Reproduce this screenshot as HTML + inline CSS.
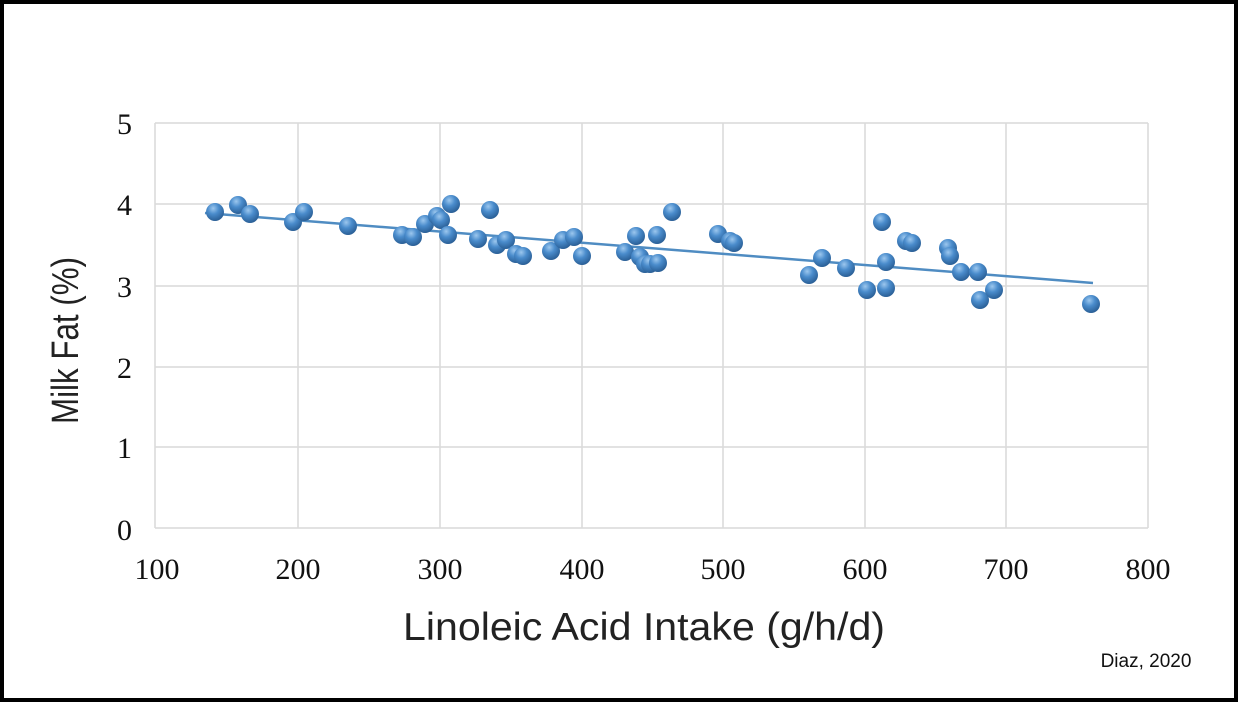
<!DOCTYPE html>
<html><head><style>
html,body{margin:0;padding:0;background:#fff;}
</style></head><body>
<svg width="1239" height="703" xmlns="http://www.w3.org/2000/svg">
<defs>
<radialGradient id="g" cx="0.4" cy="0.3" r="0.7">
<stop offset="0" stop-color="#9cc7ee"/>
<stop offset="0.45" stop-color="#4a8ccc"/>
<stop offset="1" stop-color="#2a5f96"/>
</radialGradient>
</defs>
<rect x="2" y="2" width="1234" height="698" fill="#fff" stroke="#000" stroke-width="4"/>
<g stroke="#d9d9d9" stroke-width="1.5">
<line x1="155" y1="123" x2="1148" y2="123"/>
<line x1="155" y1="204" x2="1148" y2="204"/>
<line x1="155" y1="286" x2="1148" y2="286"/>
<line x1="155" y1="367" x2="1148" y2="367"/>
<line x1="155" y1="447" x2="1148" y2="447"/>
<line x1="155" y1="528" x2="1148" y2="528"/>
<line x1="155" y1="123" x2="155" y2="528"/>
<line x1="298" y1="123" x2="298" y2="528"/>
<line x1="440" y1="123" x2="440" y2="528"/>
<line x1="582" y1="123" x2="582" y2="528"/>
<line x1="723" y1="123" x2="723" y2="528"/>
<line x1="865" y1="123" x2="865" y2="528"/>
<line x1="1006" y1="123" x2="1006" y2="528"/>
<line x1="1148" y1="123" x2="1148" y2="528"/>
</g>
<g font-family="Liberation Serif, serif" font-size="30" fill="#111" text-anchor="end">
<text x="132" y="134">5</text><text x="132" y="215">4</text><text x="132" y="297">3</text>
<text x="132" y="378">2</text><text x="132" y="458">1</text><text x="132" y="540">0</text>
</g>
<g font-family="Liberation Serif, serif" font-size="30" fill="#111" text-anchor="middle">
<text x="157" y="579">100</text><text x="298" y="579">200</text><text x="440" y="579">300</text>
<text x="582" y="579">400</text><text x="723" y="579">500</text><text x="865" y="579">600</text>
<text x="1006" y="579">700</text><text x="1148" y="579">800</text>
</g>
<text x="403" y="640" textLength="482" lengthAdjust="spacingAndGlyphs" font-family="Liberation Sans, sans-serif" font-size="39" fill="#222">Linoleic Acid Intake (g/h/d)</text>
<text transform="translate(78,424) rotate(-90)" textLength="167" lengthAdjust="spacingAndGlyphs" font-family="Liberation Sans, sans-serif" font-size="38" fill="#222">Milk Fat (%)</text>
<text x="1146" y="667" font-family="Liberation Sans, sans-serif" font-size="19" fill="#111" text-anchor="middle">Diaz, 2020</text>
<line x1="205" y1="213" x2="1093" y2="283" stroke="#4f8cc2" stroke-width="2.5"/>
<g fill="url(#g)">
<circle cx="215" cy="212" r="9"/><circle cx="238" cy="205" r="9"/><circle cx="250" cy="214" r="9"/>
<circle cx="293" cy="222" r="9"/><circle cx="304" cy="212" r="9"/><circle cx="348" cy="226" r="9"/>
<circle cx="402" cy="235" r="9"/><circle cx="413" cy="237" r="9"/><circle cx="425" cy="224" r="9"/>
<circle cx="437" cy="216" r="9"/><circle cx="441" cy="220" r="9"/><circle cx="451" cy="204" r="9"/>
<circle cx="448" cy="235" r="9"/><circle cx="478" cy="239" r="9"/><circle cx="490" cy="210" r="9"/>
<circle cx="497" cy="245" r="9"/><circle cx="506" cy="240" r="9"/><circle cx="516" cy="254" r="9"/>
<circle cx="523" cy="256" r="9"/><circle cx="551" cy="251" r="9"/><circle cx="563" cy="240" r="9"/>
<circle cx="574" cy="237" r="9"/><circle cx="582" cy="256" r="9"/><circle cx="625" cy="252" r="9"/>
<circle cx="636" cy="236" r="9"/><circle cx="640" cy="257" r="9"/><circle cx="645" cy="264" r="9"/>
<circle cx="650" cy="264" r="9"/><circle cx="657" cy="235" r="9"/><circle cx="658" cy="263" r="9"/>
<circle cx="672" cy="212" r="9"/><circle cx="718" cy="234" r="9"/><circle cx="730" cy="241" r="9"/>
<circle cx="734" cy="243" r="9"/><circle cx="809" cy="275" r="9"/><circle cx="822" cy="258" r="9"/>
<circle cx="846" cy="268" r="9"/><circle cx="867" cy="290" r="9"/><circle cx="882" cy="222" r="9"/>
<circle cx="886" cy="262" r="9"/><circle cx="886" cy="288" r="9"/><circle cx="906" cy="241" r="9"/>
<circle cx="912" cy="243" r="9"/><circle cx="948" cy="248" r="9"/><circle cx="950" cy="256" r="9"/>
<circle cx="961" cy="272" r="9"/><circle cx="978" cy="272" r="9"/><circle cx="980" cy="300" r="9"/>
<circle cx="994" cy="290" r="9"/><circle cx="1091" cy="304" r="9"/>
</g>
</svg>
</body></html>
